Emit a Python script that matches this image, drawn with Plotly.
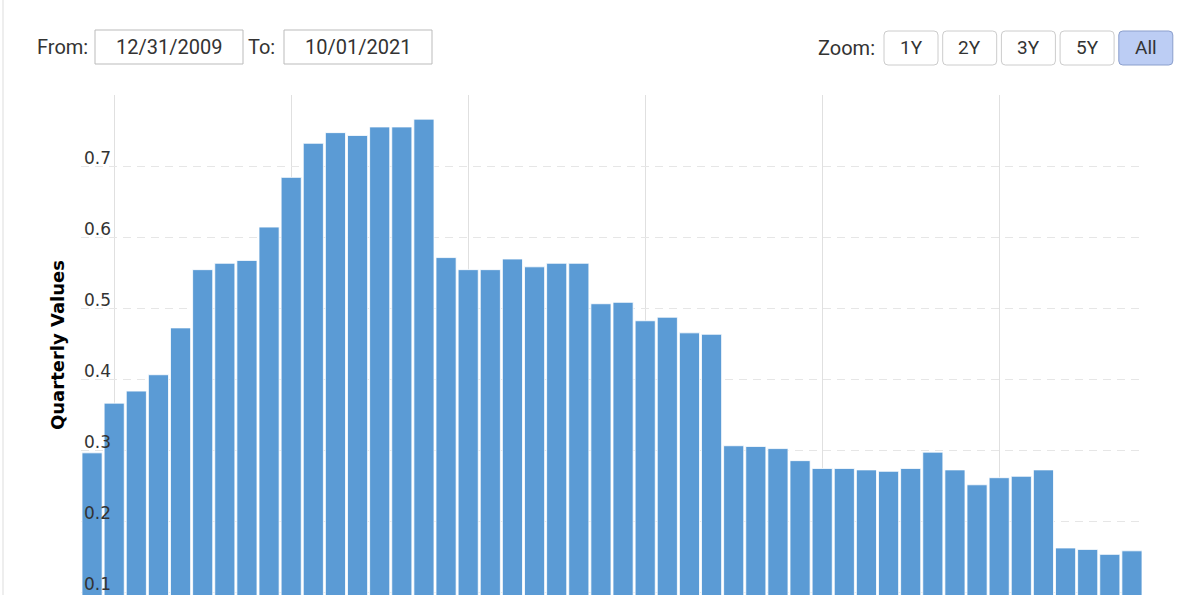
import pandas as pd
import plotly.graph_objects as go

# quarterly dates, 12/31/2009 .. 09/30/2021
quarters = pd.date_range("2009-12-31", "2021-09-30", freq="QE").strftime("%Y-%m-%d").tolist()

values = [
    0.296, 0.366, 0.383, 0.406, 0.472, 0.554, 0.563, 0.567,
    0.614, 0.684, 0.732, 0.747, 0.743, 0.755, 0.755, 0.766,
    0.571, 0.554, 0.554, 0.569, 0.558, 0.563, 0.563, 0.506,
    0.508, 0.482, 0.487, 0.465, 0.463, 0.306, 0.305, 0.302,
    0.285, 0.274, 0.274, 0.272, 0.270, 0.274, 0.297, 0.272,
    0.251, 0.261, 0.263, 0.272, 0.162, 0.160, 0.153, 0.158,
]

y_ticks = [0.1, 0.2, 0.3, 0.4, 0.5, 0.6, 0.7, 0.8]
y_labels = ["0.1", "0.2", "0.3", "0.4", "0.5", "0.6", "0.7", ""]
zoom_buttons = ["1Y", "2Y", "3Y", "5Y", "All"]

W, H = 1198, 595
L, R, T, B = 81, 55, 95, 0
PW, PH = W - L - R, H - T - B
# the 0.1 gridline sits 3px above the bottom edge of the picture
y_min = 0.1 - 3 * (0.8 - 0.1) / (PH - 3)


def px(x):
    return (x - L) / PW


def py(y):
    return (H - B - y) / PH


def round_box(x0, y0, x1, y1, r=4):
    # rounded rectangle path in paper units, from pixel corners
    a, b, c, d = px(x0), px(x1), py(y0), py(y1)
    rx, ry = r / PW, r / PH
    return (f"M {a + rx} {c} L {b - rx} {c} Q {b} {c} {b} {c - ry} "
            f"L {b} {d + ry} Q {b} {d} {b - rx} {d} L {a + rx} {d} "
            f"Q {a} {d} {a} {d + ry} L {a} {c - ry} Q {a} {c} {a + rx} {c} Z")


fig = go.Figure(go.Bar(
    x=quarters, y=values,
    marker=dict(color="#5b9bd5", line=dict(color="rgba(255,255,255,0.8)", width=1)),
    hovertemplate="%{x}<br>%{y:.3f}<extra></extra>",
))

ui_font = dict(family="Roboto, Arial, sans-serif", size=20, color="#333333")
shapes = [
    dict(type="line", xref="paper", yref="paper", x0=px(3), x1=px(3), y0=py(0), y1=py(H),
         line=dict(color="#dddddd", width=1)),
    dict(type="rect", xref="paper", yref="paper", x0=px(95), x1=px(243), y0=py(30), y1=py(64),
         line=dict(color="#bbbbbb", width=1), fillcolor="white"),
    dict(type="rect", xref="paper", yref="paper", x0=px(284), x1=px(432), y0=py(30), y1=py(64),
         line=dict(color="#bbbbbb", width=1), fillcolor="white"),
]
annotations = [
    dict(text="From:", x=px(35), y=py(47), xanchor="left"),
    dict(text="12/31/2009", x=px(169), y=py(47), xanchor="center"),
    dict(text="To:", x=px(246), y=py(47), xanchor="left"),
    dict(text="10/01/2021", x=px(358), y=py(47), xanchor="center"),
    dict(text="Zoom:", x=px(816), y=py(48), xanchor="left"),
]
for i, label in enumerate(zoom_buttons):
    x0 = 884 + i * 58.7
    active = label == "All"
    shapes.append(dict(
        type="path", xref="paper", yref="paper", path=round_box(x0, 31, x0 + 54, 65),
        line=dict(color="#8b9fcc" if active else "#cccccc", width=1),
        fillcolor="#bccdf4" if active else "white",
    ))
    annotations.append(dict(text=label, x=px(x0 + 27), y=py(48), xanchor="center",
                            font=dict(ui_font, size=19)))
for a in annotations:
    a.update(xref="paper", yref="paper", yanchor="middle", showarrow=False)
    a.setdefault("font", ui_font)

fig.update_layout(
    width=W, height=H,
    margin=dict(l=L, r=R, t=T, b=B, pad=0, autoexpand=False),
    plot_bgcolor="white", paper_bgcolor="white",
    bargap=0.09, showlegend=False,
    shapes=shapes, annotations=annotations,
    font=dict(family="DejaVu Sans, Verdana, sans-serif", color="#333333"),
)
fig.update_xaxes(
    type="category", range=[-0.5, len(quarters) - 0.5],
    tickvals=quarters[1::8], showticklabels=False, ticks="",
    showgrid=True, gridcolor="#e0e0e0", gridwidth=1, showline=False, zeroline=False,
)
fig.update_yaxes(
    range=[y_min, 0.8], tickvals=y_ticks, ticktext=y_labels,
    ticklabelposition="inside top", ticklabelshift=4,
    tickfont=dict(family="DejaVu Sans, Verdana, sans-serif", size=17, color="#333333"),
    showgrid=True, gridcolor="#e6e6e6", griddash="8px,6px", gridwidth=1,
    zeroline=False, showline=False, ticks="",
    title=dict(text="<b>Quarterly Values</b>", standoff=14,
               font=dict(family="DejaVu Sans, Verdana, sans-serif", size=18, color="#000000")),
)

fig.write_html("out.html", config={"displayModeBar": False},
               post_script="document.body.style.margin = '0';")
